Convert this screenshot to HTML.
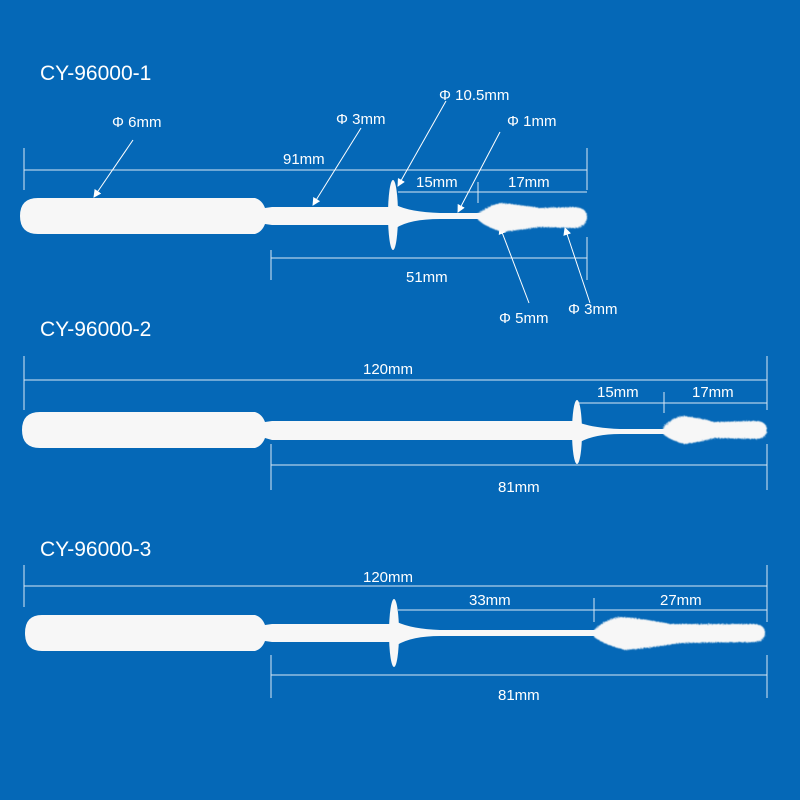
<!DOCTYPE html>
<html><head><style>
html,body{margin:0;padding:0;background:#0568b7;}
svg{display:block}
text{font-family:"Liberation Sans",sans-serif;fill:#fff}
</style></head><body>
<svg width="800" height="800" viewBox="0 0 800 800" xmlns="http://www.w3.org/2000/svg">
<defs>
<filter id="fz" x="-10%" y="-30%" width="120%" height="160%">
<feTurbulence type="fractalNoise" baseFrequency="0.9" numOctaves="2" result="n"/>
<feDisplacementMap in="SourceGraphic" in2="n" scale="3"/>
<feGaussianBlur stdDeviation="0.6"/>
</filter>
<marker id="ar" markerWidth="8" markerHeight="8" refX="7" refY="4" orient="auto" markerUnits="userSpaceOnUse">
<path d="M0,0 L8,4 L0,8 z" fill="#fff"/>
</marker>
</defs>
<rect width="800" height="800" fill="#0568b7"/>
<g stroke="#fff" stroke-width="1" fill="none" opacity="0.85">
<!-- swab1 dims -->
<line x1="24" y1="148" x2="24" y2="190"/><line x1="587" y1="148" x2="587" y2="190"/>
<line x1="24" y1="170" x2="587" y2="170"/>
<line x1="398" y1="192" x2="587" y2="192"/><line x1="478" y1="182" x2="478" y2="203"/>
<line x1="271" y1="250" x2="271" y2="280"/><line x1="587" y1="237" x2="587" y2="280"/>
<line x1="271" y1="258" x2="587" y2="258"/>
<!-- swab2 -->
<line x1="24" y1="356" x2="24" y2="410"/><line x1="767" y1="356" x2="767" y2="410"/>
<line x1="24" y1="380" x2="767" y2="380"/>
<line x1="577" y1="403" x2="767" y2="403"/><line x1="664" y1="392" x2="664" y2="413"/>
<line x1="271" y1="444" x2="271" y2="490"/><line x1="767" y1="444" x2="767" y2="490"/>
<line x1="271" y1="465" x2="767" y2="465"/>
<!-- swab3 -->
<line x1="24" y1="565" x2="24" y2="607"/><line x1="767" y1="565" x2="767" y2="622"/>
<line x1="24" y1="586" x2="767" y2="586"/>
<line x1="398" y1="610" x2="767" y2="610"/><line x1="594" y1="598" x2="594" y2="622"/>
<line x1="271" y1="655" x2="271" y2="698"/><line x1="767" y1="655" x2="767" y2="698"/>
<line x1="271" y1="675" x2="767" y2="675"/>
</g>
<!-- leaders -->
<g stroke="#fff" stroke-width="1" marker-end="url(#ar)">
<line x1="133" y1="140" x2="94" y2="197"/>
<line x1="361" y1="128" x2="313" y2="205"/>
<line x1="446" y1="101" x2="398" y2="186"/>
<line x1="500" y1="132" x2="458" y2="212"/>
<line x1="529" y1="303" x2="500" y2="227"/>
<line x1="590" y1="303" x2="565" y2="228"/>
</g>
<!-- text -->
<g font-size="21"><text x="40" y="80">CY-96000-1</text><text x="40" y="336">CY-96000-2</text><text x="40" y="556">CY-96000-3</text></g>
<g font-size="15">
<text x="112" y="127">Φ 6mm</text><text x="336" y="124">Φ 3mm</text><text x="439" y="100">Φ 10.5mm</text><text x="507" y="126">Φ 1mm</text>
<text x="283" y="164">91mm</text><text x="416" y="187">15mm</text><text x="508" y="187">17mm</text><text x="406" y="282">51mm</text>
<text x="499" y="323">Φ 5mm</text><text x="568" y="314">Φ 3mm</text>
<text x="363" y="374">120mm</text><text x="597" y="397">15mm</text><text x="692" y="397">17mm</text><text x="498" y="492">81mm</text>
<text x="363" y="582">120mm</text><text x="469" y="605">33mm</text><text x="660" y="605">27mm</text><text x="498" y="700">81mm</text>
</g>
<!-- swab 1 -->
<g fill="#f7f7f7">
<path d="M38,198 H255 Q262,200 265,208 L272,207 H390 V225 H272 L265,224 Q262,232 255,234 H38 Q20,234 20,216 Q20,198 38,198 Z"/>
<path d="M262,210 Q268,216 262,222 Z"/>
<ellipse cx="393" cy="215" rx="5" ry="35"/>
<path d="M396,205 Q410,212 440,213 H482 V219 H440 Q410,219 396,228 Z"/>
<path filter="url(#fz)" d="M478,214 Q490,204 502,203 Q520,205 540,208 L575,207 Q587,208 587,217 Q587,227 575,228 L540,227 Q520,230 502,232 Q488,228 478,220 Z"/>
</g>
<!-- swab 2 -->
<g fill="#f7f7f7">
<path d="M40,412 H255 Q262,414 265,422 L272,421 H575 V440 H272 L265,438 Q262,446 255,448 H40 Q22,448 22,430 Q22,412 40,412 Z"/>
<ellipse cx="577" cy="432" rx="5" ry="32"/>
<path d="M580,423 Q595,428 620,429 H668 V434 H620 Q595,434 580,442 Z"/>
<path filter="url(#fz)" d="M663,428 Q672,417 684,416 Q700,418 715,422 L757,421 Q767,422 767,430 Q767,438 757,439 L715,438 Q700,442 684,444 Q670,440 663,434 Z"/>
</g>
<!-- swab 3 -->
<g fill="#f7f7f7">
<path d="M42,615 H255 Q262,617 265,625 L272,624 H390 V642 H272 L265,641 Q262,649 255,651 H42 Q25,651 25,633 Q25,615 42,615 Z"/>
<ellipse cx="394" cy="633" rx="5" ry="34"/>
<path d="M397,622 Q412,629 440,630 H598 V636 H440 Q412,636 397,645 Z"/>
<path filter="url(#fz)" d="M594,630 Q605,619 620,617 Q640,618 670,624 L755,624 Q765,625 765,633 Q765,641 755,642 L680,643 Q650,648 625,650 Q605,645 594,637 Z"/>
</g>
</svg>
</body></html>
